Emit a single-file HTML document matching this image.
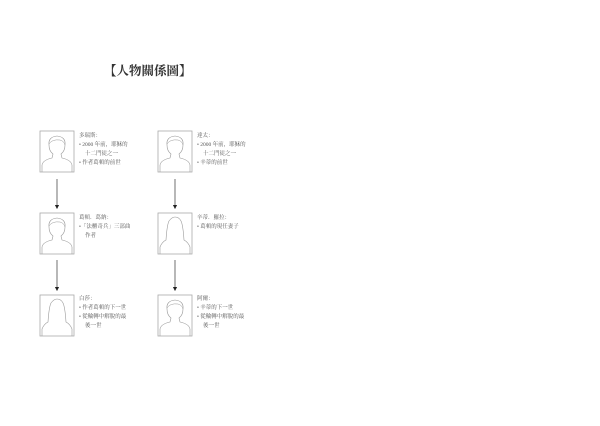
<!DOCTYPE html>
<html><head><meta charset="utf-8"><style>
html,body{margin:0;padding:0;background:#fff;}
svg{display:block}
text{font-family:"Liberation Serif","Noto Serif CJK SC","Noto Sans CJK TC",serif;fill:#555;font-size:5.5px}
</style></head><body>
<svg width="600" height="426" viewBox="0 0 600 426" xmlns="http://www.w3.org/2000/svg">
<defs>
<g id="man">
<rect x="0" y="0" width="34" height="41" fill="#fff" stroke="#aaa" stroke-width="0.8"/>
<path d="M2 41 L2 34 Q3 29 12 27 L13 23 Q9 20 9 14 Q8 6 17 5 Q26 6 25 14 Q25 20 21 23 L22 27 Q31 29 32 34 L32 41" fill="none" stroke="#999" stroke-width="0.6"/>
<path d="M9 13 Q12 8 20 9 Q24 10 25 14" fill="none" stroke="#999" stroke-width="0.5"/>
</g>
<g id="woman">
<rect x="0" y="0" width="34" height="41" fill="#fff" stroke="#aaa" stroke-width="0.8"/>
<path d="M2 41 L2 34 Q4 29 8 27 Q9 12 11 8 Q14 4 17 4 Q21 4 23 8 Q25 12 26 27 Q30 29 32 34 L32 41" fill="none" stroke="#999" stroke-width="0.6"/>
</g>
<marker id="ah" markerWidth="6" markerHeight="6" refX="3" refY="3" orient="auto"><path d="M0 0 L6 3 L0 6 z" fill="#222"/></marker>
</defs>
<text x="104" y="75" style="font-size:12.5px;font-weight:bold;fill:#333">【人物關係圖】</text>

<use href="#man" x="40" y="131"/>
<use href="#man" x="158" y="131"/>
<use href="#man" x="40" y="213"/>
<use href="#woman" x="158" y="213"/>
<use href="#woman" x="40" y="295"/>
<use href="#man" x="158" y="295"/>

<line x1="57" y1="179" x2="57" y2="207" stroke="#333" stroke-width="0.7" marker-end="url(#ah)"/>
<line x1="175" y1="179" x2="175" y2="207" stroke="#333" stroke-width="0.7" marker-end="url(#ah)"/>
<line x1="57" y1="260" x2="57" y2="289" stroke="#333" stroke-width="0.7" marker-end="url(#ah)"/>
<line x1="175" y1="260" x2="175" y2="289" stroke="#333" stroke-width="0.7" marker-end="url(#ah)"/>

<text x="79" y="137">多瑞斯：</text>
<text x="79" y="146">• 2000 年前，耶穌的</text>
<text x="85" y="155">十二門徒之一</text>
<text x="79" y="164">• 作者葛頓的前世</text>

<text x="197" y="137">達太：</text>
<text x="197" y="146">• 2000 年前，耶穌的</text>
<text x="203" y="155">十二門徒之一</text>
<text x="197" y="164">• 辛蒂的前世</text>

<text x="79" y="219">葛頓．葛納：</text>
<text x="79" y="228">•「法櫃奇兵」三部曲</text>
<text x="85" y="237">作者</text>

<text x="197" y="219">辛蒂．羅拉：</text>
<text x="197" y="228">• 葛頓的現任妻子</text>

<text x="79" y="300">白莎：</text>
<text x="79" y="309">• 作者葛頓的下一世</text>
<text x="79" y="318">• 從輪轉中解脫的最</text>
<text x="85" y="327">後一世</text>

<text x="197" y="300">阿爾：</text>
<text x="197" y="309">• 辛蒂的下一世</text>
<text x="197" y="318">• 從輪轉中解脫的最</text>
<text x="203" y="327">後一世</text>
</svg>
</body></html>
